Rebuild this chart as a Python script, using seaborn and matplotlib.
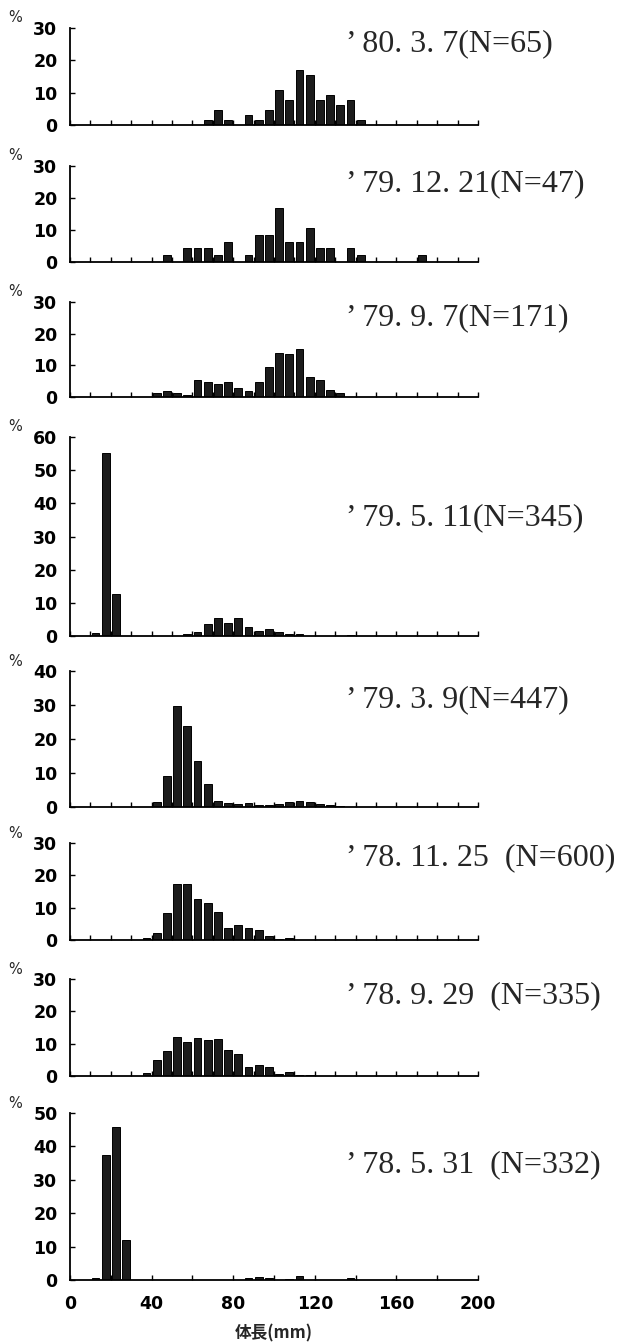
import numpy as np
import pandas as pd
import matplotlib
matplotlib.use("Agg")
import matplotlib.pyplot as plt
import seaborn as sns

# ---------------- data (percent per 5 mm body-length class, bin centres in mm) ----------------
labels = ["’ 80. 3. 7(N=65)", "’ 79. 12. 21(N=47)", "’ 79. 9. 7(N=171)", "’ 79. 5. 11(N=345)",
          "’ 79. 3. 9(N=447)", "’ 78. 11. 25  (N=600)", "’ 78. 9. 29  (N=335)", "’ 78. 5. 31  (N=332)"]

c1 = [67.5, 72.5, 77.5, 87.5, 92.5, 97.5, 102.5, 107.5, 112.5, 117.5, 122.5, 127.5, 132.5, 137.5, 142.5]
p1 = [1.5, 4.6, 1.5, 3.1, 1.5, 4.6, 10.8, 7.7, 16.9, 15.4, 7.7, 9.2, 6.2, 7.7, 1.5]

c2 = [47.5, 57.5, 62.5, 67.5, 72.5, 77.5, 87.5, 92.5, 97.5, 102.5, 107.5, 112.5, 117.5,
      122.5, 127.5, 137.5, 142.5, 172.5]
p2 = [2.1, 4.3, 4.3, 4.3, 2.1, 6.4, 2.1, 8.5, 8.5, 17.0, 6.4, 6.4, 10.6, 4.3, 4.3, 4.3, 2.1, 2.1]

c3 = [42.5, 47.5, 52.5, 57.5, 62.5, 67.5, 72.5, 77.5, 82.5, 87.5, 92.5, 97.5, 102.5, 107.5,
      112.5, 117.5, 122.5, 127.5, 132.5]
p3 = [1.2, 1.8, 1.2, 0.6, 5.3, 4.7, 4.1, 4.7, 2.9, 1.8, 4.7, 9.4, 14.0, 13.5, 15.2, 6.4, 5.3, 2.3, 1.2]

c4 = [12.5, 17.5, 22.5, 57.5, 62.5, 67.5, 72.5, 77.5, 82.5, 87.5, 92.5, 97.5, 102.5, 107.5, 112.5, 137.5]
p4 = [0.9, 55.1, 12.8, 0.6, 1.2, 3.5, 5.5, 3.8, 5.5, 2.6, 1.4, 2.0, 1.2, 0.6, 0.6, 0.3]

c5 = [42.5, 47.5, 52.5, 57.5, 62.5, 67.5, 72.5, 77.5, 82.5, 87.5, 92.5, 97.5, 102.5, 107.5,
      112.5, 117.5, 122.5, 127.5, 132.5]
p5 = [1.6, 9.2, 29.8, 23.7, 13.4, 6.7, 1.8, 1.1, 0.9, 1.1, 0.5, 0.7, 0.9, 1.6, 1.8, 1.6, 1.0, 0.5, 0.4]

c6 = [37.5, 42.5, 47.5, 52.5, 57.5, 62.5, 67.5, 72.5, 77.5, 82.5, 87.5, 92.5, 97.5, 102.5, 107.5]
p6 = [0.5, 2.3, 8.2, 17.2, 17.2, 12.7, 11.5, 8.8, 3.7, 4.7, 3.8, 3.0, 1.2, 0.4, 0.5]

c7 = [37.5, 42.5, 47.5, 52.5, 57.5, 62.5, 67.5, 72.5, 77.5, 82.5, 87.5, 92.5, 97.5, 102.5,
      107.5, 112.5, 117.5]
p7 = [0.9, 5.1, 7.8, 12.2, 10.5, 11.9, 11.0, 11.3, 8.1, 6.9, 2.7, 3.3, 2.7, 0.6, 1.2, 0.3, 0.3]

c8 = [12.5, 17.5, 22.5, 27.5, 87.5, 92.5, 97.5, 107.5, 112.5, 137.5]
p8 = [0.6, 37.3, 45.8, 12.0, 0.6, 0.9, 0.6, 0.3, 1.2, 0.6]

ymax = [30, 30, 30, 60, 40, 30, 30, 50]
x_labels = ["0", "40", "80", "120", "160", "200"]
x_label_pos = [0, 40, 80, 120, 160, 200]
xlabel = "体長(mm)"

centres = [c1, c2, c3, c4, c5, c6, c7, c8]
pcts = [p1, p2, p3, p4, p5, p6, p7, p8]

# ---------------- layout ----------------
W, H = 628, 1344
sns.set_theme(style="ticks")
plt.rcParams["font.family"] = ["DejaVu Sans"]

fig = plt.figure(figsize=(W / 100, H / 100), dpi=100)
fig.patch.set_facecolor("white")

# (top pixel, bottom pixel) of each panel's y-range
pix = [(28, 125), (166, 262), (302, 397), (437, 636), (671, 807), (843, 940), (979, 1076), (1113, 1280)]
text_y = [44, 184, 318, 518, 700, 858, 996, 1165]
x0, x1 = 70, 478

for i in range(8):
    top, bot = pix[i]
    ax = fig.add_axes([x0 / W, 1 - bot / H, (x1 - x0) / W, (bot - top) / H])
    ax.set_facecolor("white")
    df = pd.DataFrame({"length": centres[i], "pct": pcts[i]})
    sns.histplot(data=df, x="length", weights="pct", binwidth=5, binrange=(0, 200), shrink=0.76,
                 color="#1c1c1c", edgecolor="black", linewidth=0.7, alpha=1, ax=ax)
    ax.set_xlim(0, 200)
    ax.set_ylim(0, ymax[i])
    ax.set_yticks(np.arange(0, ymax[i] + 1, 10))
    ax.set_ylabel("")
    ax.set_xlabel("")
    for s in ["top", "right"]:
        ax.spines[s].set_visible(False)
    for s in ["left", "bottom"]:
        ax.spines[s].set_linewidth(1.3)
        ax.spines[s].set_color("black")
    if i < 7:
        ax.set_xticks(np.arange(0, 201, 10))
        ax.set_xticklabels([])
    else:
        ax.set_xticks(x_label_pos)
        ax.set_xticklabels(x_labels)
        ax.set_xticks(np.arange(20, 201, 40), minor=True)
        ax.set_xlabel(xlabel, family=["Noto Sans CJK JP", "DejaVu Sans"], fontsize=12,
                      fontweight="bold", labelpad=8)
    ax.tick_params(axis="y", direction="in", length=3.5, width=1.0, pad=9,
                   labelsize=12.5, colors="black")
    ax.tick_params(axis="x", which="both", direction="in", length=3.5, width=1.0,
                   colors="black", pad=11, labelsize=12.5)
    for lab in ax.get_yticklabels() + ax.get_xticklabels():
        lab.set_fontweight("bold")
    fig.text(15 / W, 1 - (top - 10) / H, "%", fontsize=10.5, ha="center", va="center")
    fig.text(346 / W, 1 - text_y[i] / H, labels[i], family=["Liberation Serif", "DejaVu Serif"],
             fontsize=23, ha="left", va="center")

fig.savefig("out.png", dpi=100, facecolor="white")
